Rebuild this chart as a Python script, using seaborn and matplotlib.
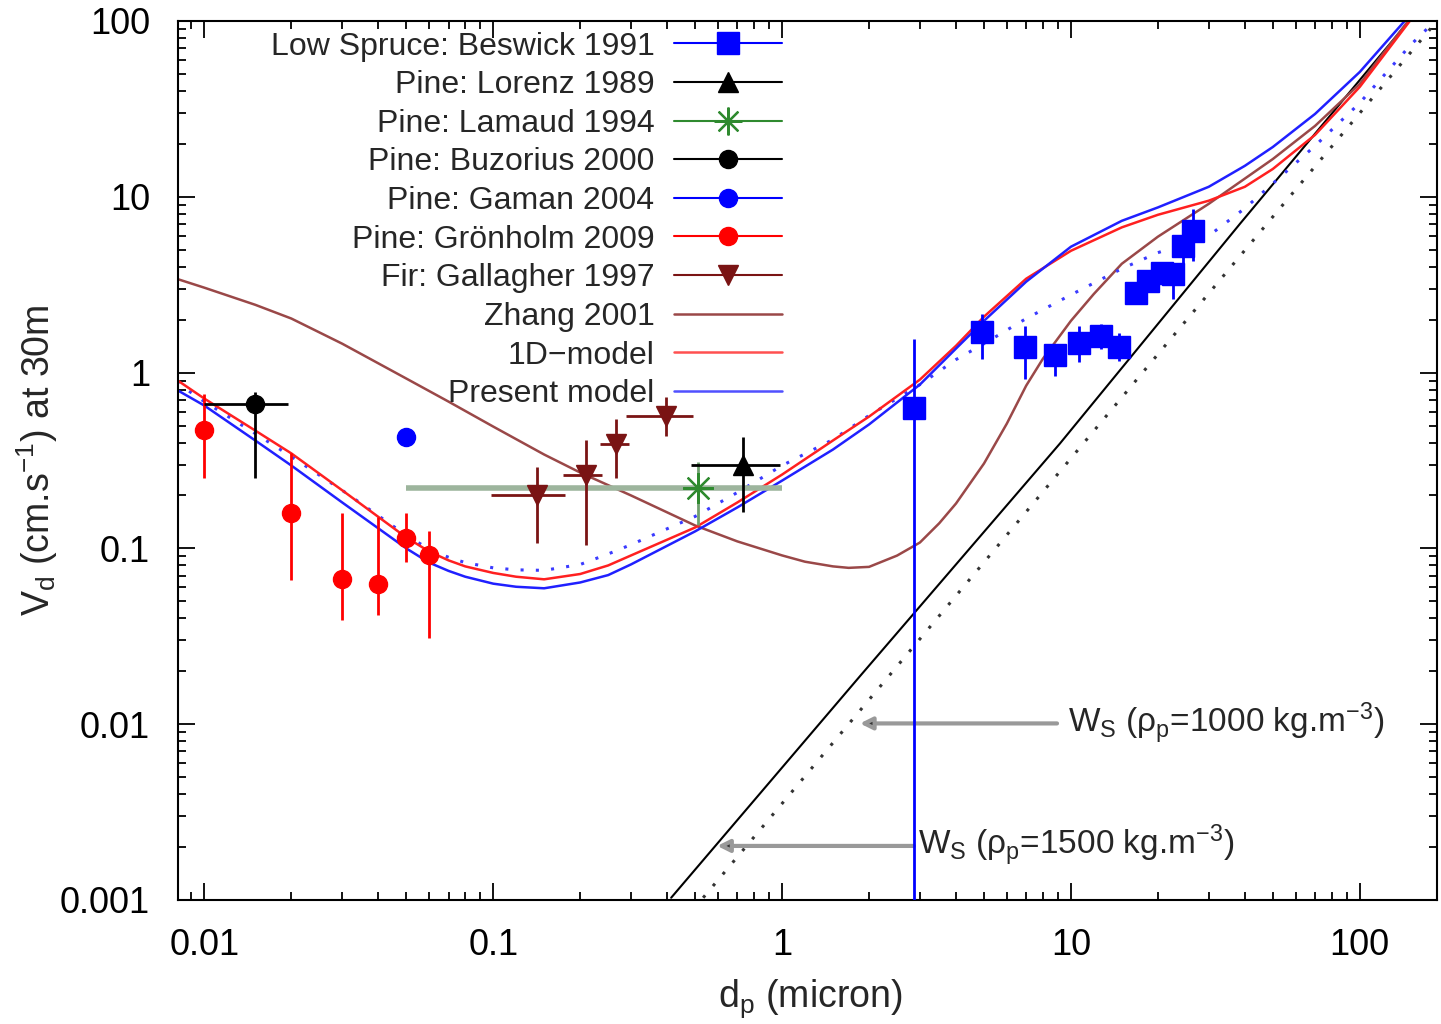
import matplotlib
matplotlib.use("Agg")
import matplotlib.pyplot as plt
from matplotlib.lines import Line2D
from matplotlib.ticker import FixedLocator, FixedFormatter, LogLocator, NullFormatter
import numpy as np
import seaborn as sns

# particle diameters (micron) at which the model curves were read
dp_grid = [0.008, 0.01, 0.015, 0.02, 0.03, 0.05, 0.06, 0.07, 0.08, 0.1, 0.12, 0.15, 0.2,
           0.25, 0.3, 0.5, 0.7, 1, 1.5, 2, 3, 4, 5, 7, 10, 15, 20, 30, 40, 50, 70, 100]

present_model = [0.800, 0.649, 0.411, 0.296, 0.1825, 0.100, 0.083, 0.0745, 0.069, 0.0630,
                 0.0605, 0.0593, 0.0640, 0.0705, 0.0811, 0.125, 0.171, 0.243, 0.365, 0.507,
                 0.855, 1.37, 1.97, 3.29, 5.20, 7.3, 8.7, 11.4, 15.0, 19.2, 29.6, 51.3]
present_end = (143, 100)

model_1d = [0.912, 0.711, 0.468, 0.347, 0.214, 0.1154, 0.096, 0.0855, 0.079, 0.0725,
            0.0690, 0.0667, 0.0715, 0.080, 0.0912, 0.1315, 0.1825, 0.263, 0.411, 0.562,
            0.912, 1.42, 2.08, 3.42, 4.93, 6.7, 7.9, 9.5, 11.4, 14.4, 22.5, 42.2]
model_1d_end = (149, 100)

# blue dotted curve (no legend entry)
dotted_model = [0.877, 0.684, 0.450, 0.333, 0.214, 0.1186, 0.099, 0.089, 0.083, 0.0775,
                0.0755, 0.0750, 0.081, 0.093, 0.105, 0.152, 0.208, 0.296, 0.416, 0.570,
                0.855, 1.186, 1.46, 2.03, 2.77, 3.90, 4.81, 6.00, 8.6, 11.9, 19.5, 34.2]
dotted_end_dp = [150, 175, 184]
dotted_end_vd = [73.1, 93.7, 100]

zhang_dp = [0.008, 0.01, 0.015, 0.02, 0.03, 0.05, 0.07, 0.1, 0.15, 0.2, 0.3, 0.5, 0.7,
            1, 1.2, 1.5, 1.7, 2, 2.5, 3, 3.5, 4, 5, 6, 7, 8, 10, 12, 15, 20, 30, 50, 70,
            100, 147]
zhang_vd = [3.42, 3.04, 2.43, 2.03, 1.46, 0.925, 0.684, 0.493, 0.342, 0.270, 0.200, 0.135,
            0.1096, 0.0912, 0.084, 0.079, 0.0775, 0.0785, 0.091, 0.108, 0.139, 0.180, 0.304,
            0.513, 0.843, 1.20, 1.97, 2.8, 4.16, 5.93, 9.12, 16.4, 25.3, 43.9, 100]

# settling velocities
ws1500_dp = [0.413, 1.86, 9.16, 38.5, 148]
ws1500_vd = [0.00103, 0.01875, 0.395, 7.03, 100]
ws1000_dp = [0.533, 2.34, 9.16, 50.0, 179]
ws1000_vd = [0.00103, 0.01875, 0.274, 7.70, 93.7]

# measurements
beswick_dp = [2.86, 4.92, 6.93, 8.81, 10.7, 12.7, 14.7, 16.8, 18.5, 20.6, 22.5, 24.4, 26.4]
beswick_vd = [0.633, 1.71, 1.39, 1.265, 1.48, 1.62, 1.39, 2.85, 3.33, 3.70, 3.65, 5.27, 6.41]
beswick_lo = [0.00001, 1.19, 0.925, 0.96, 1.15, 1.37, 1.16, 2.85, 3.33, 3.3, 2.63, 4.0, 4.33]
beswick_hi = [1.56, 2.16, 1.85, 1.46, 1.85, 1.90, 1.67, 2.85, 3.33, 4.2, 3.9, 6.0, 8.55]

lorenz_dp, lorenz_vd = [0.73], [0.30]
lorenz_dp_lo, lorenz_dp_hi = [0.484], [0.98]
lorenz_lo, lorenz_hi = [0.162], [0.428]

lamaud_dp, lamaud_vd = [0.51], [0.22]
lamaud_dp_lo, lamaud_dp_hi = [0.05], [1.0]
lamaud_lo, lamaud_hi = [0.135], [0.31]

buzorius_dp, buzorius_vd = [0.015], [0.66]
buzorius_dp_lo, buzorius_dp_hi = [0.01], [0.0195]
buzorius_lo, buzorius_hi = [0.25], [0.78]

gaman_dp, gaman_vd = [0.05], [0.43]

gronholm_dp = [0.01, 0.02, 0.03, 0.04, 0.05, 0.06]
gronholm_vd = [0.47, 0.16, 0.067, 0.063, 0.115, 0.092]
gronholm_lo = [0.25, 0.066, 0.039, 0.042, 0.084, 0.031]
gronholm_hi = [0.76, 0.35, 0.16, 0.15, 0.158, 0.126]

gallagher_dp = [0.142, 0.21, 0.265, 0.395]
gallagher_vd = [0.20, 0.26, 0.39, 0.57]
gallagher_dp_lo = [0.098, 0.175, 0.234, 0.288]
gallagher_dp_hi = [0.177, 0.238, 0.296, 0.492]
gallagher_lo = [0.107, 0.104, 0.25, 0.433]
gallagher_hi = [0.292, 0.411, 0.548, 0.731]

sns.set_theme(style="ticks")
plt.rcParams["font.family"] = ["Liberation Sans", "DejaVu Sans"]
plt.rcParams["mathtext.default"] = "regular"

fig = plt.figure(figsize=(14.41, 10.24), dpi=100)
ax = fig.add_axes([0.1235, 0.1211, 0.8737, 0.8584])
ax.set_xscale("log")
ax.set_yscale("log")

BROWN = "#9a4848"
DARKRED = "#7a1414"

# model curves
sns.lineplot(x=ws1500_dp, y=ws1500_vd, ax=ax, color="black", lw=1.5, sort=False, estimator=None)
sns.lineplot(x=ws1000_dp, y=ws1000_vd, ax=ax, color="#333333", lw=2.2, linestyle=(0, (1, 4)),
             sort=False, estimator=None)
sns.lineplot(x=zhang_dp, y=zhang_vd, ax=ax, color=BROWN, lw=1.8, sort=False, estimator=None)
sns.lineplot(x=dp_grid + dotted_end_dp, y=dotted_model + dotted_end_vd, ax=ax, color="#3a3aff",
             lw=2.2, linestyle=(0, (1, 4)), sort=False, estimator=None)
sns.lineplot(x=dp_grid + [model_1d_end[0]], y=model_1d + [model_1d_end[1]], ax=ax,
             color="#ff2020", lw=1.8, sort=False, estimator=None)
sns.lineplot(x=dp_grid + [present_end[0]], y=present_model + [present_end[1]], ax=ax,
             color="#2020ff", lw=1.8, sort=False, estimator=None)


def err(vals, lo, hi):
    v = np.array(vals)
    return [v - np.array(lo), np.array(hi) - v]


# measurements
ax.errorbar(lamaud_dp, lamaud_vd, xerr=err(lamaud_dp, lamaud_dp_lo, lamaud_dp_hi),
            fmt="none", ecolor="#9db59d", elinewidth=4, capsize=0, zorder=3)
ax.errorbar(lamaud_dp, lamaud_vd, yerr=err(lamaud_vd, lamaud_lo, lamaud_hi),
            fmt="none", ecolor="#6f9f6f", elinewidth=2, capsize=0, zorder=3)
ax.plot(lamaud_dp, lamaud_vd, ls="none", marker=(8, 2, 0), ms=22, mew=1.6, color="#2f8a2f", zorder=4)

ax.errorbar(gronholm_dp, gronholm_vd, yerr=err(gronholm_vd, gronholm_lo, gronholm_hi),
            fmt="o", color="#ff0000", ms=13, elinewidth=2, capsize=0, zorder=4)
ax.errorbar(buzorius_dp, buzorius_vd, yerr=err(buzorius_vd, buzorius_lo, buzorius_hi),
            xerr=err(buzorius_dp, buzorius_dp_lo, buzorius_dp_hi),
            fmt="o", color="black", ms=13, elinewidth=2, capsize=0, zorder=4)
ax.plot(gaman_dp, gaman_vd, ls="none", marker="o", ms=13, color="#0000ff", zorder=4)
ax.errorbar(gallagher_dp, gallagher_vd, yerr=err(gallagher_vd, gallagher_lo, gallagher_hi),
            xerr=err(gallagher_dp, gallagher_dp_lo, gallagher_dp_hi),
            fmt="v", color=DARKRED, ms=14, elinewidth=2, capsize=0, zorder=4)
ax.errorbar(lorenz_dp, lorenz_vd, yerr=err(lorenz_vd, lorenz_lo, lorenz_hi),
            xerr=err(lorenz_dp, lorenz_dp_lo, lorenz_dp_hi),
            fmt="^", color="black", ms=14, elinewidth=2, capsize=0, zorder=4)
ax.errorbar(beswick_dp, beswick_vd, yerr=err(beswick_vd, beswick_lo, beswick_hi),
            fmt="s", color="#0000ff", ms=16, elinewidth=2, capsize=0, zorder=4)

# settling velocity annotations
arrow = dict(arrowstyle="-|>", edgecolor="#999999", facecolor="#333333", lw=3,
             mutation_scale=18, shrinkA=0, shrinkB=0)
ax.annotate("", xy=(1.86, 0.0101), xytext=(8.95, 0.0101), arrowprops=arrow)
ax.annotate("", xy=(0.596, 0.00203), xytext=(2.86, 0.00203), arrowprops=arrow)
ax.text(9.77, 0.0101, "W$_S$ (ρ$_p$=1000 kg.m$^{-3}$)", fontsize=24, va="center", ha="left")
ax.text(2.96, 0.00203, "W$_S$ (ρ$_p$=1500 kg.m$^{-3}$)", fontsize=24, va="center", ha="left")

ax.set_xlim(0.0081, 185)
ax.set_ylim(0.001, 100)

xt = [0.01, 0.1, 1, 10, 100]
yt = [0.001, 0.01, 0.1, 1, 10, 100]
ax.xaxis.set_major_locator(FixedLocator(xt))
ax.xaxis.set_major_formatter(FixedFormatter(["0.01", "0.1", "1", "10", "100"]))
ax.yaxis.set_major_locator(FixedLocator(yt))
ax.yaxis.set_major_formatter(FixedFormatter(["0.001", "0.01", "0.1", "1", "10", "100"]))
for axis in (ax.xaxis, ax.yaxis):
    axis.set_minor_locator(LogLocator(base=10, subs=np.arange(2, 10), numticks=20))
    axis.set_minor_formatter(NullFormatter())

ax.tick_params(which="both", direction="in", top=True, right=True, width=1.3, colors="black")
ax.tick_params(which="major", length=12, labelsize=26)
ax.tick_params(which="minor", length=6)
ax.tick_params(axis="x", which="major", pad=20)
ax.tick_params(axis="y", which="major", pad=20)
for sp in ax.spines.values():
    sp.set_linewidth(1.5)
    sp.set_color("black")

ax.set_xlabel("d$_p$ (micron)", fontsize=27)
ax.set_ylabel("V$_d$ (cm.s$^{-1}$) at 30m", fontsize=27)
ax.xaxis.set_label_coords(0.502, -0.088)
ax.yaxis.set_label_coords(-0.094, 0.5)

handles = [
    Line2D([], [], color="#0000ff", lw=1.5, marker="s", ms=16),
    Line2D([], [], color="black", lw=1.5, marker="^", ms=14),
    Line2D([], [], color="#2f8a2f", lw=1.5, marker=(8, 2, 0), ms=20, mew=1.6),
    Line2D([], [], color="black", lw=1.5, marker="o", ms=13),
    Line2D([], [], color="#0000ff", lw=1.5, marker="o", ms=13),
    Line2D([], [], color="#ff0000", lw=1.5, marker="o", ms=13),
    Line2D([], [], color=DARKRED, lw=1.5, marker="v", ms=14),
    Line2D([], [], color=BROWN, lw=1.8),
    Line2D([], [], color="#ff5050", lw=1.8),
    Line2D([], [], color="#5050ff", lw=1.8),
]
labels = ["Low Spruce: Beswick 1991", "Pine: Lorenz 1989", "Pine: Lamaud 1994",
          "Pine: Buzorius 2000", "Pine: Gaman 2004", "Pine: Grönholm 2009",
          "Fir: Gallagher 1997", "Zhang 2001", "1D\u2212model", "Present model"]
ax.legend(handles, labels, loc="upper right", bbox_to_anchor=(0.48, 0.988), frameon=False,
          markerfirst=False, fontsize=23, handlelength=3.4, handletextpad=0.6,
          labelspacing=0.27, borderpad=0, borderaxespad=0)

fig.savefig("out.png", dpi=100)
